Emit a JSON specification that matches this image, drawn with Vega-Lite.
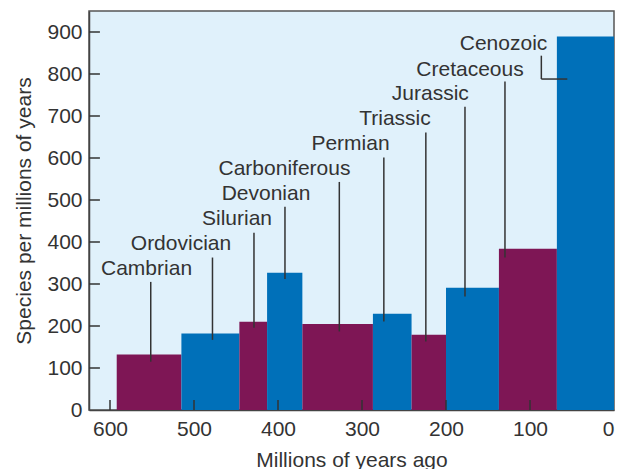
{
  "$schema": "https://vega.github.io/schema/vega-lite/v6.json",
  "width": 525,
  "height": 399,
  "autosize": {"type": "none"},
  "padding": {"left": 89, "top": 11, "right": 13, "bottom": 59},
  "background": "white",
  "config": {
    "view": {"fill": "#e0f1fb", "stroke": "#555555", "strokeWidth": 1.5},
    "font": "Liberation Sans"
  },
  "datasets": {
    "periods": [
      {"period": "Cambrian", "start": 592, "end": 515, "value": 132, "group": "a"},
      {"period": "Ordovician", "start": 515, "end": 446, "value": 182, "group": "b"},
      {"period": "Silurian", "start": 446, "end": 413, "value": 210, "group": "a"},
      {"period": "Devonian", "start": 413, "end": 371, "value": 327, "group": "b"},
      {"period": "Carboniferous", "start": 371, "end": 287, "value": 205, "group": "a"},
      {"period": "Permian", "start": 287, "end": 241, "value": 229, "group": "b"},
      {"period": "Triassic", "start": 241, "end": 200, "value": 179, "group": "a"},
      {"period": "Jurassic", "start": 200, "end": 137, "value": 291, "group": "b"},
      {"period": "Cretaceous", "start": 137, "end": 68, "value": 384, "group": "a"},
      {"period": "Cenozoic", "start": 68, "end": 0, "value": 889, "group": "b"}
    ],
    "leaders": [
      {"period": "Cambrian", "x": 551.5, "x2": 551.5, "y": 305, "y2": 115},
      {"period": "Ordovician", "x": 478, "x2": 478, "y": 363, "y2": 167},
      {"period": "Silurian", "x": 428.6, "x2": 428.6, "y": 422, "y2": 196},
      {"period": "Devonian", "x": 391.7, "x2": 391.7, "y": 484, "y2": 312},
      {"period": "Carboniferous", "x": 327, "x2": 327, "y": 543, "y2": 187},
      {"period": "Permian", "x": 274, "x2": 274, "y": 601, "y2": 211},
      {"period": "Triassic", "x": 224, "x2": 224, "y": 661, "y2": 163},
      {"period": "Jurassic", "x": 177.4, "x2": 177.4, "y": 722, "y2": 270},
      {"period": "Cretaceous", "x": 129.8, "x2": 129.8, "y": 782, "y2": 363},
      {"period": "Cenozoic", "x": 86.5, "x2": 86.5, "y": 843.6, "y2": 788},
      {"period": "Cenozoic", "x": 86.5, "x2": 55.6, "y": 788, "y2": 788},
      {"period": "xtick", "x": 600, "x2": 600, "y": 0, "y2": 24},
      {"period": "xtick", "x": 500, "x2": 500, "y": 0, "y2": 24},
      {"period": "xtick", "x": 400, "x2": 400, "y": 0, "y2": 24},
      {"period": "xtick", "x": 300, "x2": 300, "y": 0, "y2": 24},
      {"period": "xtick", "x": 200, "x2": 200, "y": 0, "y2": 24},
      {"period": "xtick", "x": 100, "x2": 100, "y": 0, "y2": 24},
      {"period": "ytick", "x": 625, "x2": 612, "y": 100, "y2": 100},
      {"period": "ytick", "x": 625, "x2": 612, "y": 200, "y2": 200},
      {"period": "ytick", "x": 625, "x2": 612, "y": 300, "y2": 300},
      {"period": "ytick", "x": 625, "x2": 612, "y": 400, "y2": 400},
      {"period": "ytick", "x": 625, "x2": 612, "y": 500, "y2": 500},
      {"period": "ytick", "x": 625, "x2": 612, "y": 600, "y2": 600},
      {"period": "ytick", "x": 625, "x2": 612, "y": 700, "y2": 700},
      {"period": "ytick", "x": 625, "x2": 612, "y": 800, "y2": 800},
      {"period": "ytick", "x": 625, "x2": 612, "y": 900, "y2": 900}
    ],
    "labels": [
      {"period": "Cambrian", "x": 556.5, "y": 320.5},
      {"period": "Ordovician", "x": 515.5, "y": 380},
      {"period": "Silurian", "x": 448.8, "y": 441},
      {"period": "Devonian", "x": 414.3, "y": 500.7},
      {"period": "Carboniferous", "x": 392.3, "y": 560},
      {"period": "Permian", "x": 313.7, "y": 620},
      {"period": "Triassic", "x": 260.7, "y": 679},
      {"period": "Jurassic", "x": 218.7, "y": 737},
      {"period": "Cretaceous", "x": 171.4, "y": 796},
      {"period": "Cenozoic", "x": 131.5, "y": 856}
    ]
  },
  "layer": [
    {
      "data": {"name": "periods"},
      "mark": {"type": "bar"},
      "encoding": {
        "x": {
          "field": "start", "type": "quantitative",
          "scale": {"domain": [625, 0], "nice": false, "zero": false},
          "axis": {
            "values": [600, 500, 400, 300, 200, 100, 0],
            "grid": false, "ticks": false,
            "domainColor": "#444444", "domainWidth": 1.5,
            "labelPadding": 8, "labelFontSize": 21, "labelColor": "#333333",
            "title": "Millions of years ago", "titleFontSize": 21,
            "titleFontWeight": "normal", "titleColor": "#333333", "titlePadding": 10
          }
        },
        "x2": {"field": "end"},
        "y": {
          "field": "value", "type": "quantitative",
          "scale": {"domain": [0, 950], "nice": false},
          "axis": {
            "values": [0, 100, 200, 300, 400, 500, 600, 700, 800, 900],
            "grid": false, "ticks": false,
            "domainColor": "#444444", "domainWidth": 1.5,
            "labelPadding": 7, "labelFontSize": 21, "labelColor": "#333333",
            "title": "Species per millions of years", "titleFontSize": 21,
            "titleFontWeight": "normal", "titleColor": "#333333", "titlePadding": 12
          }
        },
        "y2": {"datum": 0},
        "color": {
          "field": "group", "type": "nominal",
          "scale": {"domain": ["a", "b"], "range": ["#7e1655", "#0070b9"]},
          "legend": null
        }
      }
    },
    {
      "data": {"name": "leaders"},
      "mark": {"type": "rule", "color": "#333333", "strokeWidth": 1.5},
      "encoding": {
        "x": {"field": "x", "type": "quantitative"},
        "x2": {"field": "x2"},
        "y": {"field": "y", "type": "quantitative"},
        "y2": {"field": "y2"}
      }
    },
    {
      "data": {"name": "labels"},
      "mark": {"type": "text", "fontSize": 21, "color": "#333333", "align": "center", "baseline": "alphabetic"},
      "encoding": {
        "x": {"field": "x", "type": "quantitative"},
        "y": {"field": "y", "type": "quantitative"},
        "text": {"field": "period"}
      }
    }
  ]
}
